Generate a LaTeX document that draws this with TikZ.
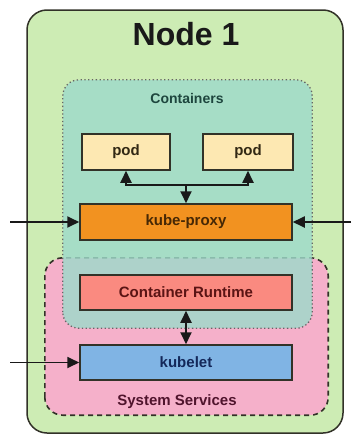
\documentclass[tikz,border=0pt]{standalone}
\usepackage{fontspec}
\setmainfont{Liberation Sans}
\usetikzlibrary{arrows.meta}
\definecolor{outerg}{RGB}{205,236,180}
\definecolor{tealc}{RGB}{158,218,202}
\definecolor{pinkc}{RGB}{245,176,202}
\definecolor{podc}{RGB}{253,232,178}
\definecolor{orangec}{RGB}{242,146,32}
\definecolor{salmonc}{RGB}{250,138,128}
\definecolor{bluec}{RGB}{128,180,228}
\definecolor{edgec}{RGB}{50,50,40}
\definecolor{ctxt}{RGB}{30,70,62}
\definecolor{podtxt}{RGB}{50,40,20}
\definecolor{kptxt}{RGB}{70,40,5}
\definecolor{crtxt}{RGB}{90,20,20}
\definecolor{kltxt}{RGB}{20,40,90}
\definecolor{sstxt}{RGB}{80,20,45}
\tikzset{
  lbl/.style={font=\fontsize{15}{18}\selectfont\bfseries},
  comp/.style={draw=edgec, line width=1.5pt, minimum height=36pt, inner sep=0pt, lbl},
  arr/.style={draw=black!90, line width=1.8pt, -{Triangle[length=12pt,width=11pt]}},
  dbl/.style={draw=black!90, line width=1.8pt, {Triangle[length=12pt,width=11pt]}-{Triangle[length=12pt,width=11pt]}}
}
\begin{document}
\begin{tikzpicture}[x=1pt,y=-1pt]
\useasboundingbox (0,0) rectangle (351,447);
\fill[white] (0,0) rectangle (351,447);
% outer node box
\node[draw=edgec, line width=1.5pt, fill=outerg, rounded corners=20pt, minimum width=316pt, minimum height=423pt, inner sep=0pt] (node1) at (185,221.5) {};
\node[font=\fontsize{32}{36}\selectfont\bfseries, text=black!90] (title) at (186,34) {Node 1};
% system services box fill
\node[fill=pinkc, rounded corners=18pt, minimum width=283pt, minimum height=157pt, inner sep=0pt] (ss) at (186.5,336.5) {};
\draw[edgec, line width=1.6pt, dash pattern=on 5pt off 4pt, rounded corners=18pt] (ss.south west) rectangle (ss.north east);
% containers box
\node[fill=tealc, fill opacity=0.82, rounded corners=16pt, minimum width=249pt, minimum height=248pt, inner sep=0pt] (cont) at (187.5,204) {};
\draw[black!60, line width=1.3pt, dash pattern=on 1.3pt off 2.5pt, rounded corners=16pt] (cont.south west) rectangle (cont.north east);
\node[lbl, font=\fontsize{14}{17}\selectfont\bfseries, text=ctxt] (clabel) at (187,98) {Containers};
\node[lbl, text=sstxt] (sslabel) at (177,402) {System Services};
% pods
\node[comp, fill=podc, text=podtxt, minimum width=88pt] (pod1) at (126,152) {pod};
\node[comp, fill=podc, text=podtxt, minimum width=90pt] (pod2) at (248,152) {pod};
% components
\node[comp, fill=orangec, text=kptxt, minimum width=212pt] (kp) at (186,222) {kube-proxy};
\node[comp, fill=salmonc, text=crtxt, minimum width=212pt, minimum height=35pt] (cr) at (186,292.5) {Container Runtime};
\node[comp, fill=bluec, text=kltxt, minimum width=212pt, minimum height=35pt] (kl) at (186,362.5) {kubelet};
% connectors
\coordinate (j) at (186,185);
\draw[arr] (j) -- (kp.north);
\draw[arr] (j) -| (pod1.south);
\draw[arr] (j) -| (pod2.south);
\coordinate (inL) at (10,222);
\coordinate (inR) at (351,222);
\coordinate (inK) at (10,362.5);
\draw[arr] (inL) -- (kp.west);
\draw[arr] (inR) -- (kp.east);
\draw[arr] (inK) -- (kl.west);
\draw[dbl] (cr.south) -- (kl.north);
\end{tikzpicture}
\end{document}
